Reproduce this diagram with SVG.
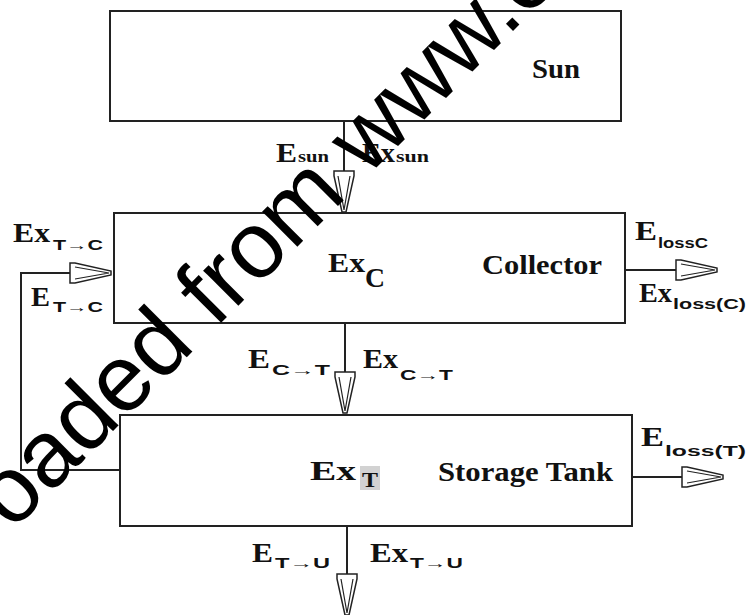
<svg xmlns="http://www.w3.org/2000/svg" xmlns:xlink="http://www.w3.org/1999/xlink" width="747" height="615" viewBox="0 0 747 615">
<style>
.box{fill:#fff;stroke:#222;stroke-width:2}
.ln{fill:none;stroke:#222;stroke-width:2}
.lbl{font-family:"Liberation Serif","Times New Roman",serif;font-weight:bold;font-size:27px;fill:#111}
.sm{font-family:"Liberation Serif","Times New Roman",serif;font-weight:bold;font-size:17px;fill:#111}
.sub{font-family:"Liberation Sans","DejaVu Sans",sans-serif;font-weight:bold;font-size:14px;fill:#111}
.wm{font-family:"Liberation Sans",Arial,sans-serif;font-size:94px;fill:#000}
</style>
<defs>
<g id="ah">
<polygon points="-10,0 10,0 10,5 2,41 -2,41 -10,5" fill="#fff" stroke="#222" stroke-width="1.5"/>
<polyline points="-6,5 0,39 6,5" fill="none" stroke="#222" stroke-width="1.2"/>
</g>
</defs>
<rect width="747" height="615" fill="#fff"/>
<g id="connectors">
<line class="ln" x1="344" y1="121" x2="344" y2="171"/>
<use xlink:href="#ah" transform="translate(344,171)"/>
<line class="ln" x1="345" y1="323" x2="345" y2="372"/>
<use xlink:href="#ah" transform="translate(345,372)"/>
<line class="ln" x1="347" y1="526" x2="347" y2="574"/>
<use xlink:href="#ah" transform="translate(347,574)"/>
<polyline class="ln" points="120,470 21,470 21,273 70,273"/>
<use xlink:href="#ah" transform="translate(70,273) rotate(-90)"/>
<line class="ln" x1="625" y1="270" x2="676" y2="270"/>
<use xlink:href="#ah" transform="translate(676,270) rotate(-90)"/>
<line class="ln" x1="632" y1="477" x2="682" y2="477"/>
<use xlink:href="#ah" transform="translate(682,477) rotate(-90)"/>
</g>
<g id="sun">
<rect class="box" x="110" y="11" width="511" height="110"/>
<text class="lbl" x="532" y="78" textLength="48" lengthAdjust="spacingAndGlyphs">Sun</text>
</g>
<g id="collector">
<rect class="box" x="114" y="213" width="511" height="110"/>
<text class="lbl" x="328" y="272" textLength="37" lengthAdjust="spacingAndGlyphs">Ex</text>
<text class="lbl" x="365" y="287" textLength="20" lengthAdjust="spacingAndGlyphs">C</text>
<text class="lbl" x="482" y="274" textLength="120" lengthAdjust="spacingAndGlyphs">Collector</text>
</g>
<g id="storage">
<rect class="box" x="120" y="415" width="512" height="111"/>
<rect x="360" y="466" width="20" height="24" fill="#d2d2d2"/>
<text class="lbl" x="310" y="480" textLength="46" lengthAdjust="spacingAndGlyphs">Ex</text>
<text class="lbl" x="362" y="487" style="font-size:21px" textLength="16" lengthAdjust="spacingAndGlyphs">T</text>
<text class="lbl" x="438" y="481" textLength="175" lengthAdjust="spacingAndGlyphs">Storage Tank</text>
</g>
<g id="labels">
<text class="lbl" x="276" y="162" textLength="21" lengthAdjust="spacingAndGlyphs">E</text>
<text class="sm" x="298" y="162" textLength="31" lengthAdjust="spacingAndGlyphs">sun</text>
<text class="lbl" x="362" y="162" textLength="33" lengthAdjust="spacingAndGlyphs">Ex</text>
<text class="sm" x="396" y="162" textLength="33" lengthAdjust="spacingAndGlyphs">sun</text>
<text class="lbl" x="13" y="242" textLength="37" lengthAdjust="spacingAndGlyphs">Ex</text>
<text class="sub" x="53" y="250" textLength="50" lengthAdjust="spacingAndGlyphs">T→C</text>
<text class="lbl" x="31" y="306" textLength="19" lengthAdjust="spacingAndGlyphs">E</text>
<text class="sub" x="53" y="312" textLength="50" lengthAdjust="spacingAndGlyphs">T→C</text>
<text class="lbl" x="635" y="240" textLength="22" lengthAdjust="spacingAndGlyphs">E</text>
<text class="sub" x="658" y="248" textLength="50" lengthAdjust="spacingAndGlyphs">lossC</text>
<text class="lbl" x="639" y="302" textLength="33" lengthAdjust="spacingAndGlyphs">Ex</text>
<text class="sub" x="673" y="309" textLength="73" lengthAdjust="spacingAndGlyphs">loss(C)</text>
<text class="lbl" x="248" y="368" textLength="22" lengthAdjust="spacingAndGlyphs">E</text>
<text class="sub" x="272" y="375" textLength="58" lengthAdjust="spacingAndGlyphs">C→T</text>
<text class="lbl" x="363" y="368" textLength="35" lengthAdjust="spacingAndGlyphs">Ex</text>
<text class="sub" x="400" y="380" textLength="53" lengthAdjust="spacingAndGlyphs">C→T</text>
<text class="lbl" x="641" y="446" textLength="23" lengthAdjust="spacingAndGlyphs">E</text>
<text class="sub" x="665" y="456" textLength="81" lengthAdjust="spacingAndGlyphs">loss(T)</text>
<text class="lbl" x="252" y="562" textLength="21" lengthAdjust="spacingAndGlyphs">E</text>
<text class="sub" x="275" y="568" textLength="55" lengthAdjust="spacingAndGlyphs">T→U</text>
<text class="lbl" x="370" y="562" textLength="38" lengthAdjust="spacingAndGlyphs">Ex</text>
<text class="sub" x="410" y="568" textLength="53" lengthAdjust="spacingAndGlyphs">T→U</text>
</g>
<text class="wm" transform="translate(12,532) rotate(-45)">oaded from www.e</text>
</svg>
